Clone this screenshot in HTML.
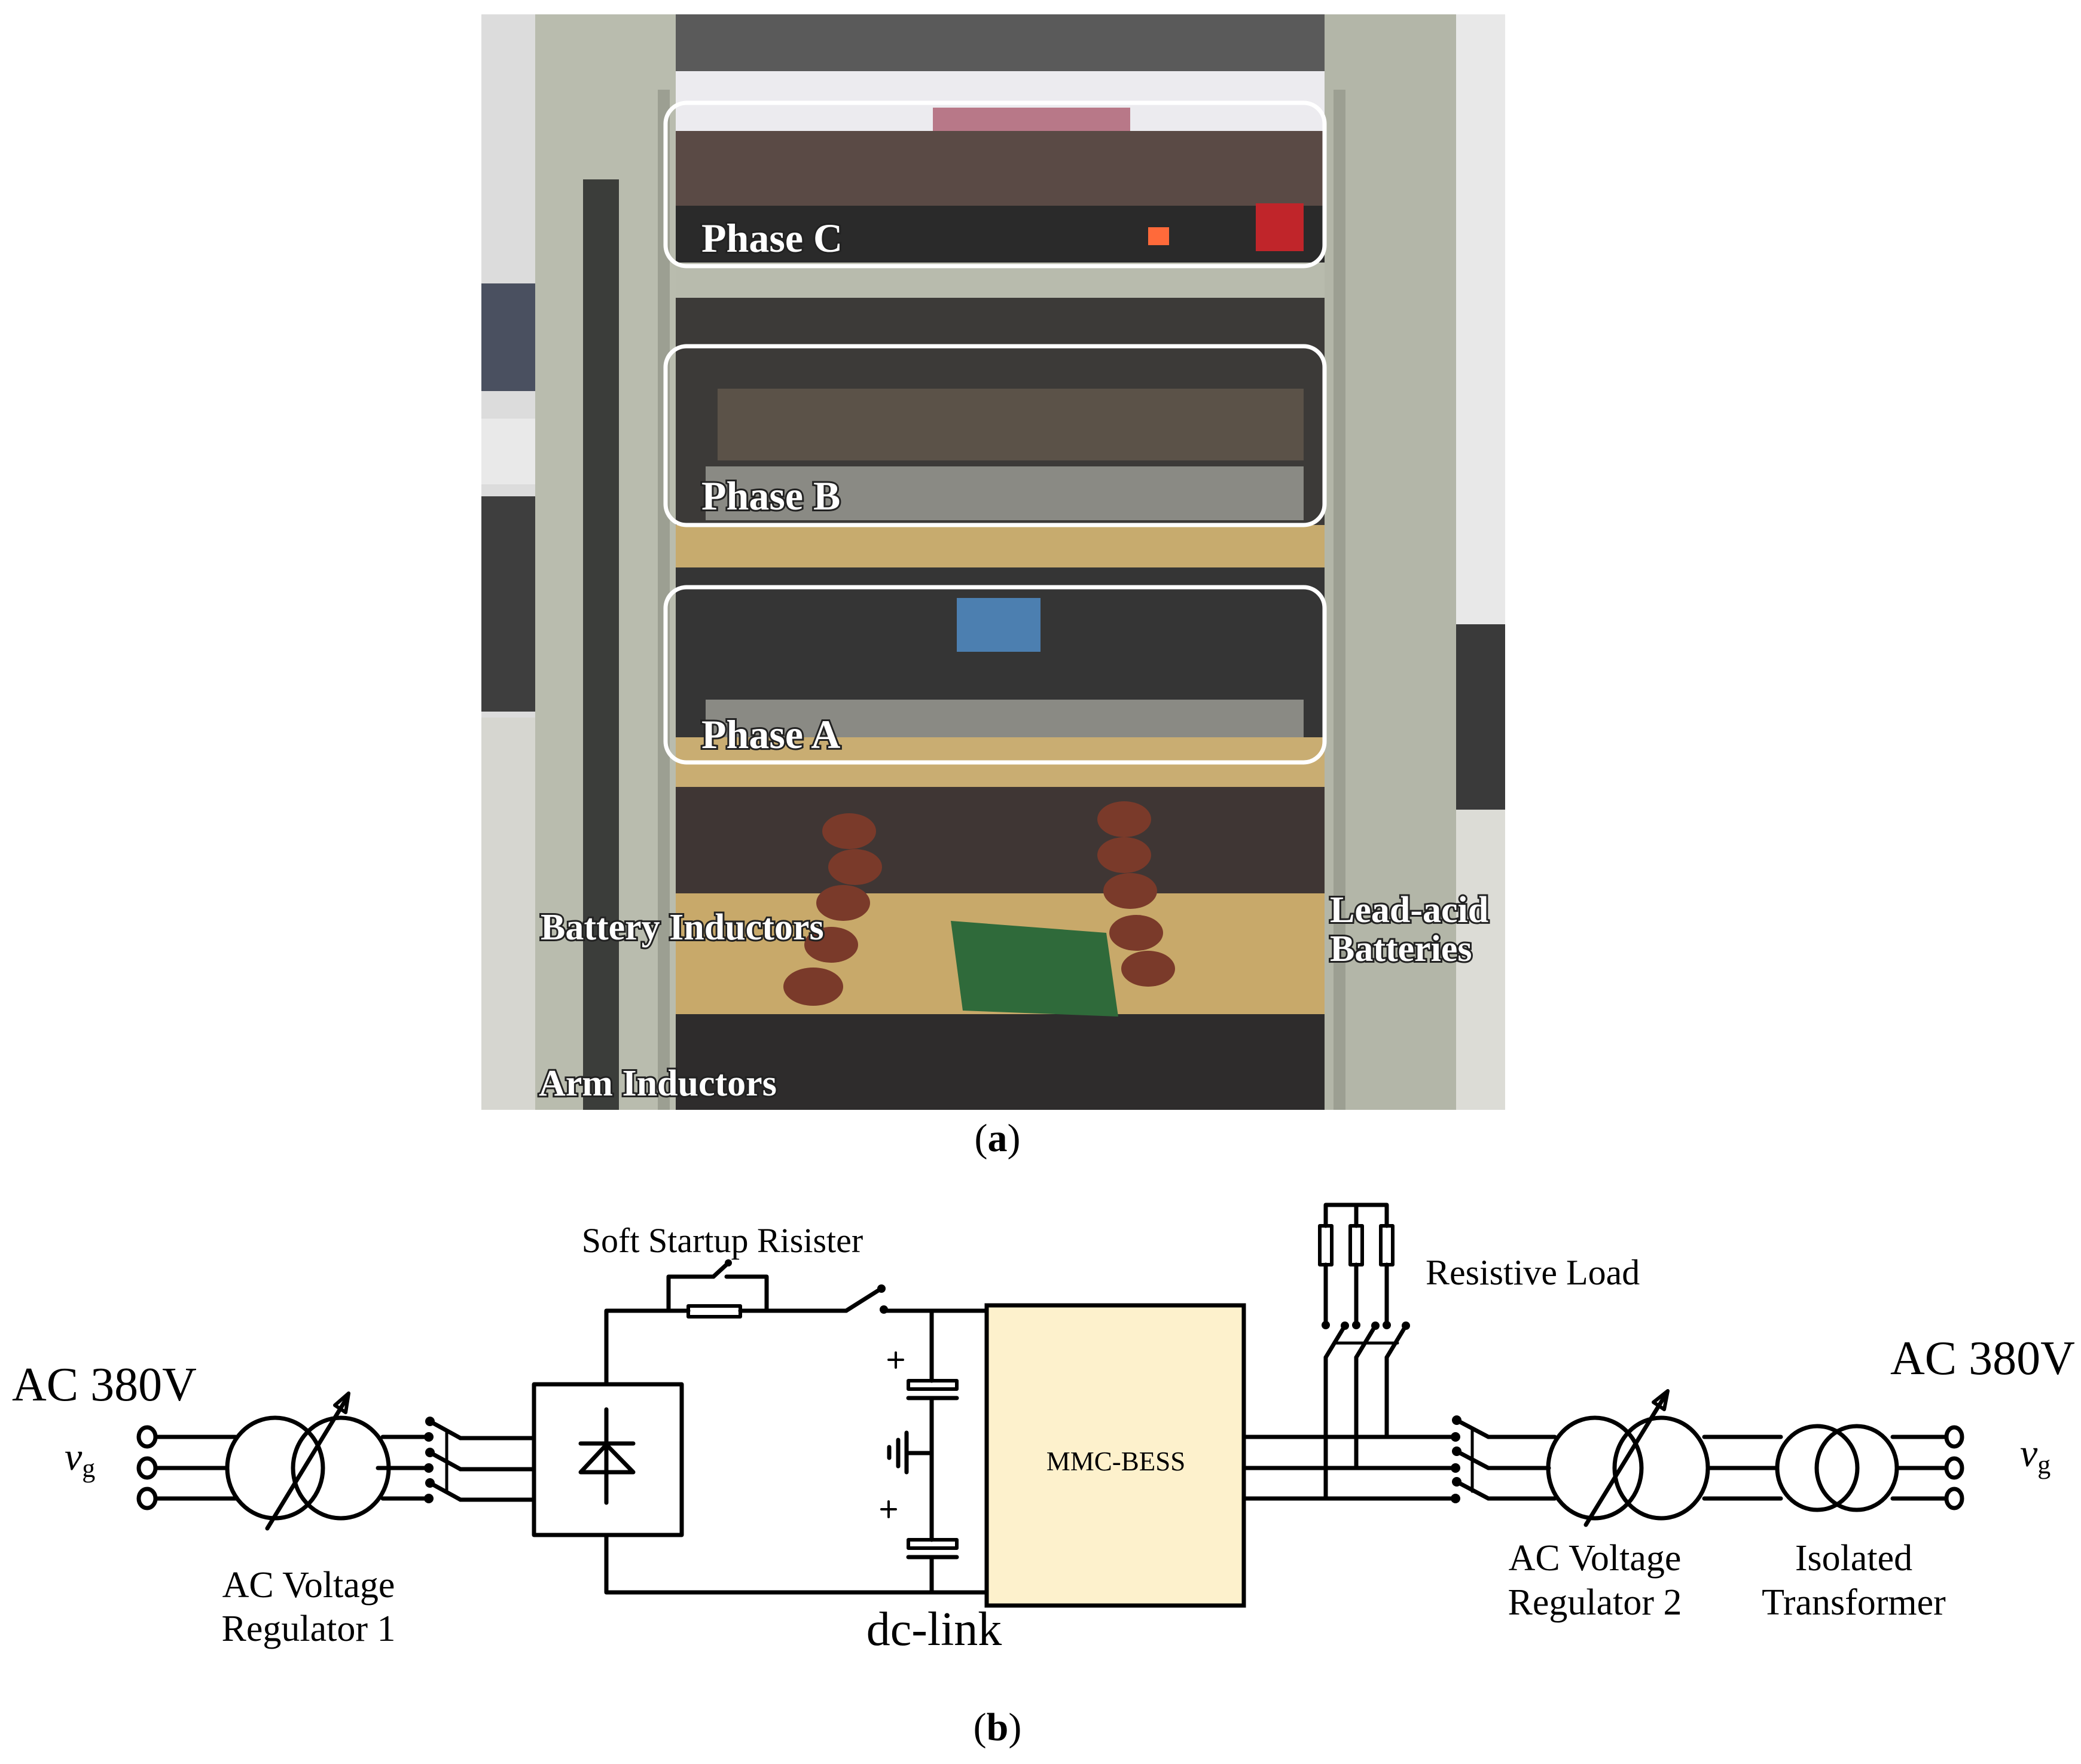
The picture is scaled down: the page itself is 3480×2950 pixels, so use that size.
<!DOCTYPE html>
<html><head><meta charset="utf-8"><style>
html,body{margin:0;padding:0;background:#fff;}
svg{display:block;}
</style></head><body>
<svg width="3480" height="2950" viewBox="0 0 3480 2950" xmlns="http://www.w3.org/2000/svg">
<rect width="3480" height="2950" fill="#fff"/>
<!-- PHOTO APPROX -->
<g>
<rect x="805" y="24" width="1712" height="1832" fill="#3a3836"/>
<rect x="805" y="24" width="90" height="1832" fill="#dcdcdc"/>
<rect x="805" y="474" width="90" height="180" fill="#4a5060"/>
<rect x="805" y="700" width="90" height="110" fill="#e9e9e9"/>
<rect x="805" y="830" width="90" height="360" fill="#3e3e3e"/>
<rect x="805" y="1200" width="90" height="656" fill="#d6d6d0"/>
<rect x="2435" y="24" width="82" height="1832" fill="#e8e8e8"/>
<rect x="2336" y="1044" width="181" height="310" fill="#3a3a3a"/>
<rect x="2380" y="1354" width="137" height="502" fill="#dcdcd6"/>
<rect x="895" y="24" width="235" height="1832" fill="#b9bcae"/>
<rect x="975" y="300" width="60" height="1556" fill="#3b3d3a"/>
<rect x="1100" y="150" width="20" height="1706" fill="#9c9f92"/>
<rect x="2215" y="24" width="220" height="1832" fill="#b3b6a8"/>
<rect x="2230" y="150" width="20" height="1706" fill="#9c9f92"/>
<rect x="1130" y="24" width="1085" height="95" fill="#5a5a5a"/>
<rect x="1130" y="119" width="1085" height="100" fill="#ecebef"/>
<rect x="1560" y="180" width="330" height="90" fill="#b87888"/>
<rect x="1130" y="219" width="1085" height="125" fill="#5a4a45"/>
<rect x="1130" y="344" width="1085" height="95" fill="#2a2a2a"/>
<rect x="1920" y="380" width="35" height="30" fill="#ff6a3a"/>
<rect x="2100" y="340" width="80" height="80" fill="#c0252a"/>
<rect x="1130" y="439" width="1085" height="59" fill="#b8bbad"/>
<rect x="1130" y="498" width="1085" height="380" fill="#3c3a38"/>
<rect x="1200" y="650" width="980" height="120" fill="#5b5248"/>
<rect x="1180" y="780" width="1000" height="90" fill="#8a8a84"/>
<rect x="1130" y="878" width="1085" height="71" fill="#c7ab6e"/>
<rect x="1130" y="949" width="1085" height="284" fill="#353535"/>
<rect x="1600" y="1000" width="140" height="90" fill="#4c7fb0"/>
<rect x="1180" y="1170" width="1000" height="70" fill="#8a8a84"/>
<rect x="1130" y="1233" width="1085" height="83" fill="#c9ad72"/>
<rect x="1130" y="1316" width="1085" height="178" fill="#3f3634"/>
<rect x="1130" y="1494" width="1085" height="202" fill="#c8a96a"/>
<rect x="1130" y="1696" width="1085" height="160" fill="#2e2c2c"/>
<polygon points="1590,1540 1850,1560 1870,1700 1610,1690" fill="#2f6a3a"/>
<g fill="#7a3a2a">
<ellipse cx="1420" cy="1390" rx="45" ry="30"/><ellipse cx="1430" cy="1450" rx="45" ry="30"/>
<ellipse cx="1410" cy="1510" rx="45" ry="30"/><ellipse cx="1390" cy="1580" rx="45" ry="30"/>
<ellipse cx="1360" cy="1650" rx="50" ry="32"/>
<ellipse cx="1880" cy="1370" rx="45" ry="30"/><ellipse cx="1880" cy="1430" rx="45" ry="30"/>
<ellipse cx="1890" cy="1490" rx="45" ry="30"/><ellipse cx="1900" cy="1560" rx="45" ry="30"/>
<ellipse cx="1920" cy="1620" rx="45" ry="30"/>
</g>
<g fill="none" stroke="#fff" stroke-width="7">
<rect x="1113" y="172" width="1102" height="273" rx="35"/>
<rect x="1113" y="579" width="1102" height="299" rx="35"/>
<rect x="1113" y="982" width="1102" height="293" rx="35"/>
</g>
<g font-family="Liberation Serif, serif" font-weight="bold" font-size="68" fill="#fff" stroke="#222" stroke-width="6" paint-order="stroke">
<text x="1173" y="421">Phase C</text>
<text x="1173" y="852">Phase B</text>
<text x="1173" y="1251">Phase A</text>
<text x="904" y="1571" font-size="62">Battery Inductors</text>
<text x="2224" y="1542" font-size="62">Lead-acid</text>
<text x="2224" y="1607" font-size="62">Batteries</text>
<text x="901" y="1832" font-size="62">Arm Inductors</text>
</g>
</g>
<g font-family="Liberation Serif, serif" fill="#000">
<text x="1668" y="1925" font-size="66" text-anchor="middle">(<tspan font-weight="bold">a</tspan>)</text>
<text x="1668" y="2910" font-size="66" text-anchor="middle">(<tspan font-weight="bold">b</tspan>)</text>
</g>

<!-- DIAGRAM -->
<g fill="none" stroke="#000" stroke-width="7" stroke-linecap="round" stroke-linejoin="round">
<!-- left terminals -->
<ellipse cx="246" cy="2403" rx="14" ry="16"/>
<ellipse cx="246" cy="2455" rx="14" ry="16"/>
<ellipse cx="246" cy="2506" rx="14" ry="16"/>
<line x1="262" y1="2403" x2="394" y2="2403"/>
<line x1="262" y1="2455" x2="380" y2="2455"/>
<line x1="262" y1="2506" x2="394" y2="2506"/>
<ellipse cx="460" cy="2455" rx="80" ry="84"/>
<ellipse cx="570" cy="2455" rx="80" ry="84"/>
<line x1="447" y1="2556" x2="580" y2="2338"/>
<polygon points="583,2330 560,2350 578,2362" stroke-width="6"/>
<line x1="640" y1="2403" x2="717" y2="2403"/>
<line x1="632" y1="2455" x2="717" y2="2455"/>
<line x1="640" y1="2506" x2="717" y2="2506"/>
<line x1="719" y1="2377" x2="770" y2="2405"/>
<line x1="719" y1="2429" x2="770" y2="2457"/>
<line x1="719" y1="2480" x2="770" y2="2508"/>
<line x1="747" y1="2393" x2="747" y2="2493" stroke-width="5"/>
<line x1="770" y1="2405" x2="893" y2="2405"/>
<line x1="770" y1="2457" x2="893" y2="2457"/>
<line x1="770" y1="2508" x2="893" y2="2508"/>
<!-- rectifier -->
<rect x="893" y="2315" width="247" height="252"/>
<line x1="1014" y1="2357" x2="1014" y2="2513"/>
<line x1="971" y1="2414" x2="1059" y2="2414"/>
<polygon points="1014,2416 971,2462 1059,2462"/>
<!-- dc wires -->
<polyline points="1014,2315 1014,2192 1151,2192"/>
<line x1="1238" y1="2192" x2="1415" y2="2192"/>
<rect x="1151" y="2184" width="87" height="18" stroke-width="6"/>
<polyline points="1118,2192 1118,2135 1193,2135"/>
<line x1="1193" y1="2135" x2="1218" y2="2112"/>
<polyline points="1215,2135 1282,2135 1282,2192"/>
<line x1="1415" y1="2192" x2="1472" y2="2156"/>
<line x1="1478" y1="2192" x2="1650" y2="2192"/>
<polyline points="1014,2567 1014,2663 1650,2663"/>
<!-- capacitors -->
<line x1="1558" y1="2192" x2="1558" y2="2309"/>
<rect x="1519" y="2309" width="81" height="14" stroke-width="6"/>
<line x1="1519" y1="2338" x2="1600" y2="2338"/>
<line x1="1558" y1="2338" x2="1558" y2="2575"/>
<rect x="1519" y="2575" width="81" height="14" stroke-width="6"/>
<line x1="1519" y1="2604" x2="1600" y2="2604"/>
<line x1="1558" y1="2604" x2="1558" y2="2663"/>
<line x1="1519" y1="2430" x2="1558" y2="2430"/>
<line x1="1516" y1="2396" x2="1516" y2="2462"/>
<line x1="1502" y1="2408" x2="1502" y2="2452"/>
<line x1="1487" y1="2420" x2="1487" y2="2438"/>
<line x1="1486" y1="2274" x2="1510" y2="2274" stroke-width="4"/>
<line x1="1498" y1="2262" x2="1498" y2="2287" stroke-width="4"/>
<line x1="1474" y1="2524" x2="1498" y2="2524" stroke-width="4"/>
<line x1="1486" y1="2511" x2="1486" y2="2537" stroke-width="4"/>
</g>
<g fill="#000">
<circle cx="717" cy="2403" r="8"/><circle cx="717" cy="2455" r="8"/><circle cx="717" cy="2506" r="8"/>
<circle cx="719" cy="2377" r="8"/><circle cx="719" cy="2429" r="8"/><circle cx="719" cy="2480" r="8"/>
<circle cx="1478" cy="2190" r="7"/><circle cx="1474" cy="2155" r="7"/>
<circle cx="1218" cy="2112" r="6"/>
</g>
<!-- MMC box -->
<rect x="1650" y="2183" width="430" height="502" fill="#fdf1cc" stroke="#000" stroke-width="7"/>
<g fill="none" stroke="#000" stroke-width="7" stroke-linecap="round" stroke-linejoin="round">
<line x1="2080" y1="2403" x2="2434" y2="2403"/>
<line x1="2080" y1="2455" x2="2434" y2="2455"/>
<line x1="2080" y1="2506" x2="2434" y2="2506"/>
<!-- load -->
<polyline points="2217,2050 2217,2015 2319,2015 2319,2050"/>
<line x1="2268" y1="2015" x2="2268" y2="2050"/>
<rect x="2207" y="2050" width="20" height="65" stroke-width="6"/>
<rect x="2258" y="2050" width="20" height="65" stroke-width="6"/>
<rect x="2309" y="2050" width="20" height="65" stroke-width="6"/>
<line x1="2217" y1="2115" x2="2217" y2="2216"/>
<line x1="2268" y1="2115" x2="2268" y2="2216"/>
<line x1="2319" y1="2115" x2="2319" y2="2216"/>
<line x1="2249" y1="2217" x2="2217" y2="2270"/>
<line x1="2300" y1="2217" x2="2268" y2="2270"/>
<line x1="2351" y1="2217" x2="2319" y2="2270"/>
<line x1="2234" y1="2246" x2="2337" y2="2246" stroke-width="5"/>
<line x1="2217" y1="2270" x2="2217" y2="2506"/>
<line x1="2268" y1="2270" x2="2268" y2="2455"/>
<line x1="2319" y1="2270" x2="2319" y2="2403"/>
<!-- right switches -->
<line x1="2436" y1="2375" x2="2489" y2="2403"/>
<line x1="2436" y1="2427" x2="2489" y2="2455"/>
<line x1="2436" y1="2478" x2="2489" y2="2506"/>
<line x1="2462" y1="2392" x2="2462" y2="2494" stroke-width="5"/>
<line x1="2489" y1="2403" x2="2600" y2="2403"/>
<line x1="2489" y1="2455" x2="2590" y2="2455"/>
<line x1="2489" y1="2506" x2="2600" y2="2506"/>
<ellipse cx="2667" cy="2455" rx="78" ry="84"/>
<ellipse cx="2778" cy="2455" rx="78" ry="84"/>
<line x1="2652" y1="2550" x2="2785" y2="2333"/>
<polygon points="2789,2326 2765,2345 2783,2357" stroke-width="6"/>
<line x1="2850" y1="2403" x2="2978" y2="2403"/>
<line x1="2856" y1="2455" x2="2972" y2="2455"/>
<line x1="2850" y1="2506" x2="2978" y2="2506"/>
<ellipse cx="3039" cy="2455" rx="67" ry="70"/>
<ellipse cx="3105" cy="2455" rx="67" ry="70"/>
<line x1="3165" y1="2403" x2="3255" y2="2403"/>
<line x1="3172" y1="2455" x2="3255" y2="2455"/>
<line x1="3165" y1="2506" x2="3255" y2="2506"/>
<ellipse cx="3268" cy="2403" rx="13" ry="16"/>
<ellipse cx="3268" cy="2455" rx="13" ry="16"/>
<ellipse cx="3268" cy="2506" rx="13" ry="16"/>
</g>
<g fill="#000">
<circle cx="2217" cy="2216" r="7"/><circle cx="2268" cy="2216" r="7"/><circle cx="2319" cy="2216" r="7"/>
<circle cx="2249" cy="2217" r="7"/><circle cx="2300" cy="2217" r="7"/><circle cx="2351" cy="2217" r="7"/>
<circle cx="2434" cy="2403" r="8"/><circle cx="2434" cy="2455" r="8"/><circle cx="2434" cy="2506" r="8"/>
<circle cx="2436" cy="2375" r="8"/><circle cx="2436" cy="2427" r="8"/><circle cx="2436" cy="2478" r="8"/>
</g>
<!-- labels -->
<g font-family="Liberation Serif, serif" fill="#000">
<text x="20" y="2342" font-size="80">AC 380V</text>
<text x="3161" y="2298" font-size="80">AC 380V</text>
<text x="108" y="2458" font-size="66" font-style="italic">v<tspan font-size="44" font-style="normal" dy="12">g</tspan></text>
<text x="3378" y="2452" font-size="66" font-style="italic">v<tspan font-size="44" font-style="normal" dy="12">g</tspan></text>
<text x="1208" y="2094" font-size="58" text-anchor="middle">Soft Startup Risister</text>
<text x="516" y="2671" font-size="62" text-anchor="middle">AC Voltage</text>
<text x="516" y="2744" font-size="62" text-anchor="middle">Regulator 1</text>
<text x="1562" y="2751" font-size="80" text-anchor="middle">dc-link</text>
<text x="1866" y="2459" font-size="45" text-anchor="middle">MMC-BESS</text>
<text x="2384" y="2148" font-size="60">Resistive Load</text>
<text x="2667" y="2626" font-size="62" text-anchor="middle">AC Voltage</text>
<text x="2667" y="2700" font-size="62" text-anchor="middle">Regulator 2</text>
<text x="3100" y="2626" font-size="62" text-anchor="middle">Isolated</text>
<text x="3100" y="2700" font-size="62" text-anchor="middle">Transformer</text>
</g>
</svg>
</body></html>
